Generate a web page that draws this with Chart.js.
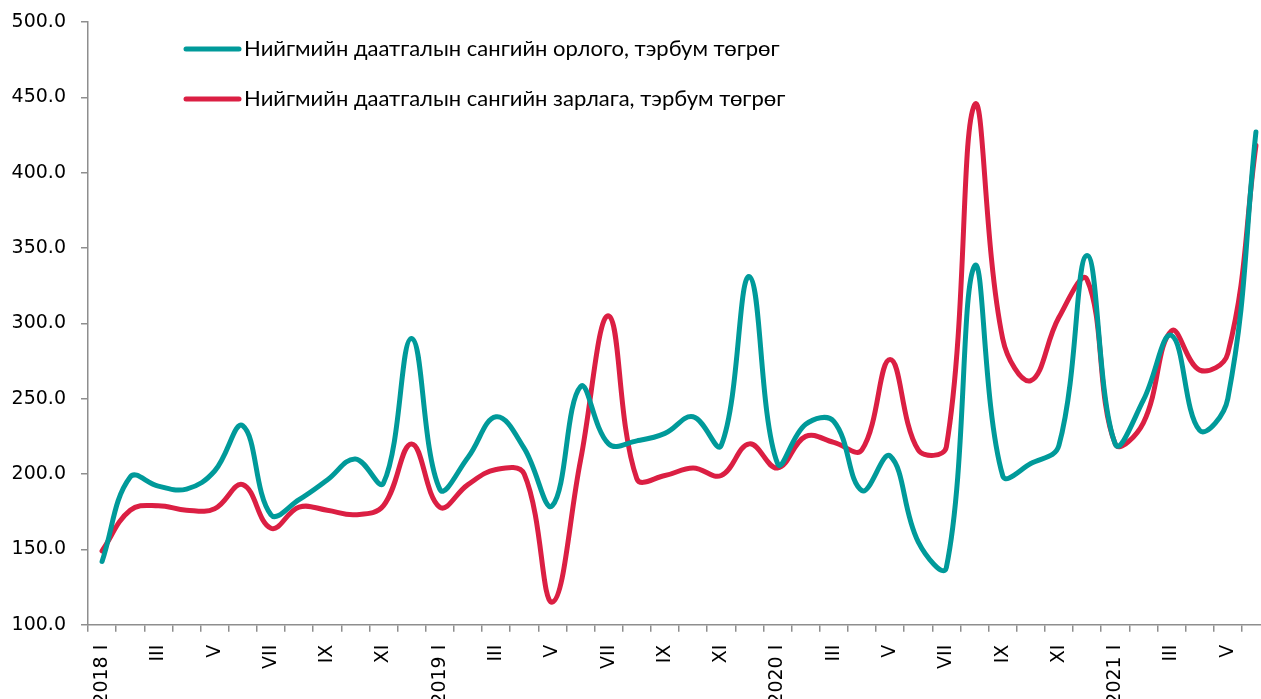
<!DOCTYPE html>
<html>
<head>
<meta charset="utf-8">
<script src="https://cdn.jsdelivr.net/npm/chart.js@4/dist/chart.umd.min.js"></script>
<style>
  html, body { margin: 0; padding: 0; background: #fff; overflow: hidden; }
  #wrap { position: relative; width: 1270px; height: 712px; }
</style>
</head>
<body>
<div id="wrap"><canvas id="c"></canvas></div>
<script>
// Month labels (2018 I – 2021 VI)
const categories = [
  '2018 I','II','III','IV','V','VI','VII','VIII','IX','X','XI','XII',
  '2019 I','II','III','IV','V','VI','VII','VIII','IX','X','XI','XII',
  '2020 I','II','III','IV','V','VI','VII','VIII','IX','X','XI','XII',
  '2021 I','II','III','IV','V','VI'
];
// Нийгмийн даатгалын сангийн орлого, тэрбум төгрөг
const incomeValues = [
  142,198,192,190,202,232,173,183,196,210,194,290,
  190,211,238,217,179,258,220,222,227,238,219,331,
  207,233,235,189,212,155,138,338,199,207,219,345,
  220,249,292,229,250,427
];
// Нийгмийн даатгалын сангийн зарлага, тэрбум төгрөг
const expenseValues = [
  149,176,179,176,177,193,164,178,176,173,179,220,
  178,193,203,200,115,209,305,197,199,204,199,220,
  204,225,221,216,276,216,218,445,290,262,304,329,
  220,234,295,269,280,418
];
const seriesNames = [
  'Нийгмийн даатгалын сангийн орлого, тэрбум төгрөг',
  'Нийгмийн даатгалын сангийн зарлага, тэрбум төгрөг'
];
const yTicks = { min: 100, max: 500, step: 50 };

const TEAL = '#009A9A';
const RED = '#DB1F43';
const AXIS = '#8E8E8E';
const TICK_FONT = { family: 'DejaVu Sans', size: 19 };

const legendPlugin = {
  id: 'insideLegend',
  afterDraw(chart) {
    const ctx = chart.ctx;
    ctx.save();
    chart.data.datasets.forEach((ds, i) => {
      const y = 49 + 50 * i;
      ctx.strokeStyle = ds.borderColor;
      ctx.lineWidth = 5;
      ctx.lineCap = 'round';
      ctx.beginPath();
      ctx.moveTo(186, y);
      ctx.lineTo(239, y);
      ctx.stroke();
      ctx.fillStyle = '#000';
      ctx.font = '22px Lato';
      ctx.textBaseline = 'middle';
      ctx.textAlign = 'left';
      ctx.fillText(ds.label, 244, y);
    });
    ctx.restore();
  }
};

new Chart(document.getElementById('c'), {
  type: 'line',
  data: {
    labels: categories,
    datasets: [
      { label: seriesNames[0], data: incomeValues, borderColor: TEAL, backgroundColor: TEAL,
        borderWidth: 5, pointRadius: 0, tension: 0.4, borderCapStyle: 'round', borderJoinStyle: 'round' },
      { label: seriesNames[1], data: expenseValues, borderColor: RED, backgroundColor: RED,
        borderWidth: 5, pointRadius: 0, tension: 0.4, borderCapStyle: 'round', borderJoinStyle: 'round' }
    ]
  },
  options: {
    responsive: true,
    maintainAspectRatio: false,
    devicePixelRatio: 1,
    animation: false,
    layout: { padding: { left: 0, top: 22, right: 0, bottom: 0 } },
    plugins: { legend: { display: false }, tooltip: { enabled: false } },
    scales: {
      x: {
        type: 'category',
        offset: true,
        grid: { display: true, offset: true, drawOnChartArea: false, drawTicks: true,
                tickLength: 7, color: AXIS, lineWidth: 1.5 },
        border: { display: true, color: AXIS, width: 1.5 },
        ticks: {
          autoSkip: false, maxRotation: 90, minRotation: 90, padding: 13,
          color: '#000', font: TICK_FONT,
          callback: function(v, i) { return i % 2 === 0 ? this.getLabelForValue(v) : ''; }
        },
        afterFit(scale) {
          scale.height = 712 - 624.7;
          scale.paddingLeft = 0; scale.paddingRight = 0;
        }
      },
      y: {
        min: yTicks.min, max: yTicks.max,
        grid: { display: true, drawOnChartArea: false, drawTicks: true,
                tickLength: 7, color: AXIS, lineWidth: 1.5 },
        border: { display: true, color: AXIS, width: 1.5 },
        ticks: { stepSize: yTicks.step, padding: 15, color: '#000', font: TICK_FONT,
                 callback: v => Number(v).toFixed(1) },
        afterFit(scale) {
          scale.width = 88;
          scale.paddingTop = 0; scale.paddingBottom = 0;
        }
      }
    }
  },
  plugins: [legendPlugin]
});
</script>
</body>
</html>
